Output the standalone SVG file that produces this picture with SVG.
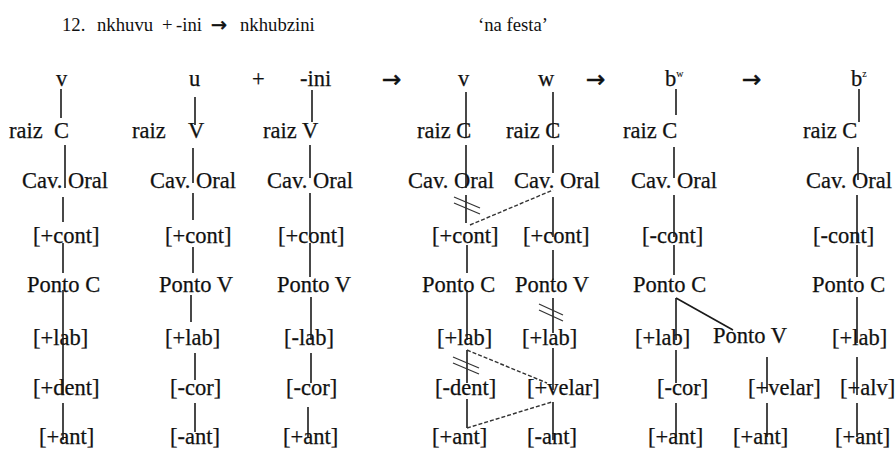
<svg xmlns="http://www.w3.org/2000/svg" width="896" height="451" viewBox="0 0 896 451">
  <style>
    .h { font-family: "Liberation Serif", "Times New Roman", serif; font-size: 18.7px; fill: #111; }
    .t { font-family: "Liberation Serif", "Times New Roman", serif; font-size: 22.5px; fill: #111; stroke: #111; stroke-width: 0.25; }
    .sup { font-size: 10px; stroke-width: 0.1; }
    .ar { font-family: "DejaVu Sans", sans-serif; fill: #111; stroke: #111; stroke-width: 0.6; }
    .l { stroke: #1a1a1a; stroke-width: 1.6; fill: none; }
    .d { stroke: #333; stroke-width: 1.4; stroke-dasharray: 4 2; fill: none; }
    .cut { stroke: #333; stroke-width: 1.2; fill: none; }
  </style>

  <rect width="896" height="451" fill="#ffffff"/>

  <!-- heading line -->
  <g id="heading">
    <text class="h" y="31"><tspan x="62">12.</tspan> <tspan x="97">nkhuvu</tspan> <tspan x="162">+</tspan> <tspan x="176">-ini</tspan> <tspan class="ar" x="211" font-size="19">→</tspan> <tspan x="240">nkhubzini</tspan> <tspan x="478">‘na festa’</tspan></text>
  </g>

  <!-- top row: segments, operators and derivation arrows -->
  <g id="top-row">
    <text class="t" x="56" y="86">v</text>
    <text class="t" x="189" y="86">u</text>
    <text class="t" x="252" y="86">+</text>
    <text class="t" x="300" y="86">-ini</text>
    <text class="ar" x="382" y="87" font-size="23">→</text>
    <text class="t" x="458" y="86">v</text>
    <text class="t" x="538" y="86">w</text>
    <text class="ar" x="586" y="87" font-size="23">→</text>
    <text class="t" x="665" y="86">b<tspan class="sup" dy="-9">w</tspan></text>
    <text class="ar" x="742" y="87" font-size="23">→</text>
    <text class="t" x="851" y="86">b<tspan class="sup" dy="-9">z</tspan></text>
  </g>

  <!-- column 1: v -->
  <g id="col1">
    <text class="t" y="138"><tspan x="9">raiz</tspan> <tspan x="54">C</tspan></text>
    <text class="t" x="22" y="188">Cav. Oral</text>
    <text class="t" x="33" y="243">[+cont]</text>
    <text class="t" x="27" y="292">Ponto C</text>
    <text class="t" x="33" y="345">[+lab]</text>
    <text class="t" x="33" y="395">[+dent]</text>
    <text class="t" x="39" y="444">[+ant]</text>
  </g>

  <!-- column 2: u -->
  <g id="col2">
    <text class="t" y="138"><tspan x="132">raiz</tspan> <tspan x="188">V</tspan></text>
    <text class="t" x="150" y="188">Cav. Oral</text>
    <text class="t" x="165" y="243">[+cont]</text>
    <text class="t" x="159" y="292">Ponto V</text>
    <text class="t" x="165" y="345">[+lab]</text>
    <text class="t" x="170" y="395">[-cor]</text>
    <text class="t" x="170" y="444">[-ant]</text>
  </g>

  <!-- column 3: -ini -->
  <g id="col3">
    <text class="t" x="263" y="138">raiz V</text>
    <text class="t" x="267" y="188">Cav. Oral</text>
    <text class="t" x="278" y="243">[+cont]</text>
    <text class="t" x="277" y="292">Ponto V</text>
    <text class="t" x="284" y="345">[-lab]</text>
    <text class="t" x="286" y="395">[-cor]</text>
    <text class="t" x="283" y="444">[+ant]</text>
  </g>

  <!-- column 4: v -->
  <g id="col4">
    <text class="t" x="417" y="138">raiz C</text>
    <text class="t" x="408" y="188">Cav. Oral</text>
    <text class="t" x="432" y="243">[+cont]</text>
    <text class="t" x="422" y="292">Ponto C</text>
    <text class="t" x="437" y="345">[+lab]</text>
    <text class="t" x="435" y="395">[-dent]</text>
    <text class="t" x="432" y="444">[+ant]</text>
  </g>

  <!-- column 5: w -->
  <g id="col5">
    <text class="t" x="506" y="138">raiz C</text>
    <text class="t" x="514" y="188">Cav. Oral</text>
    <text class="t" x="523" y="243">[+cont]</text>
    <text class="t" x="515" y="292">Ponto V</text>
    <text class="t" x="522" y="345">[+lab]</text>
    <text class="t" x="527" y="395">[+velar]</text>
    <text class="t" x="527" y="444">[-ant]</text>
  </g>

  <!-- column 6: bw -->
  <g id="col6">
    <text class="t" x="623" y="138">raiz C</text>
    <text class="t" x="631" y="188">Cav. Oral</text>
    <text class="t" x="642" y="243">[-cont]</text>
    <text class="t" x="633" y="292">Ponto C</text>
    <text class="t" x="635" y="345">[+lab]</text>
    <text class="t" x="657" y="395">[-cor]</text>
    <text class="t" x="648" y="444">[+ant]</text>
  </g>

  <!-- secondary place under column 6 -->
  <g id="col7">
    <text class="t" x="713" y="343">Ponto V</text>
    <text class="t" x="748" y="395">[+velar]</text>
    <text class="t" x="733" y="444">[+ant]</text>
  </g>

  <!-- column 8: bz -->
  <g id="col8">
    <text class="t" x="803" y="138">raiz C</text>
    <text class="t" x="806" y="188">Cav. Oral</text>
    <text class="t" x="813" y="243">[-cont]</text>
    <text class="t" x="812" y="292">Ponto C</text>
    <text class="t" x="832" y="345">[+lab]</text>
    <text class="t" x="840" y="395">[+alv]</text>
    <text class="t" x="835" y="444">[+ant]</text>
  </g>

  <!-- association lines -->
  <g id="connectors">
    <!-- col1 -->
    <line class="l" x1="61" y1="89" x2="61" y2="118"/>
    <line class="l" x1="65" y1="145" x2="65" y2="188"/>
    <line class="l" x1="63" y1="197" x2="63" y2="222"/>
    <line class="l" x1="63" y1="243" x2="63" y2="273"/>
    <line class="l" x1="63" y1="290" x2="63" y2="395"/>
    <line class="l" x1="63" y1="403" x2="63" y2="440"/>
    <!-- col2 -->
    <line class="l" x1="195" y1="97" x2="195" y2="125"/>
    <line class="l" x1="193" y1="148" x2="193" y2="183"/>
    <line class="l" x1="193" y1="193" x2="193" y2="220"/>
    <line class="l" x1="193" y1="247" x2="193" y2="273"/>
    <line class="l" x1="191" y1="295" x2="191" y2="322"/>
    <line class="l" x1="195" y1="353" x2="195" y2="380"/>
    <line class="l" x1="195" y1="403" x2="195" y2="432"/>
    <!-- col3 -->
    <line class="l" x1="312" y1="90" x2="312" y2="122"/>
    <line class="l" x1="310" y1="145" x2="310" y2="178"/>
    <line class="l" x1="310" y1="193" x2="310" y2="237"/>
    <line class="l" x1="310" y1="243" x2="310" y2="277"/>
    <line class="l" x1="311" y1="297" x2="311" y2="340"/>
    <line class="l" x1="311" y1="353" x2="311" y2="383"/>
    <line class="l" x1="308" y1="407" x2="308" y2="438"/>
    <!-- col4 -->
    <line class="l" x1="466" y1="92" x2="466" y2="138"/>
    <line class="l" x1="466" y1="145" x2="466" y2="188"/>
    <line class="l" x1="466" y1="195" x2="466" y2="223"/>
    <line class="l" x1="467" y1="245" x2="467" y2="273"/>
    <line class="l" x1="467" y1="290" x2="467" y2="340"/>
    <line class="l" x1="467" y1="350" x2="467" y2="383"/>
    <line class="l" x1="467" y1="399" x2="467" y2="428"/>
    <!-- col5 -->
    <line class="l" x1="553" y1="92" x2="553" y2="138"/>
    <line class="l" x1="553" y1="145" x2="553" y2="173"/>
    <line class="l" x1="553" y1="197" x2="553" y2="237"/>
    <line class="l" x1="553" y1="250" x2="553" y2="280"/>
    <line class="l" x1="553" y1="298" x2="553" y2="333"/>
    <line class="l" x1="553" y1="348" x2="553" y2="390"/>
    <line class="l" x1="553" y1="402" x2="553" y2="440"/>
    <!-- spreading links between col4 and col5 -->
    <line class="d" x1="470" y1="225" x2="553" y2="190"/>
    <line class="d" x1="467" y1="350" x2="547" y2="383"/>
    <line class="d" x1="467" y1="428" x2="552" y2="402"/>
    <!-- delinking marks -->
    <line class="cut" x1="454" y1="197" x2="480" y2="208"/>
    <line class="cut" x1="454" y1="203" x2="480" y2="214"/>
    <line class="cut" x1="453" y1="357" x2="479" y2="368"/>
    <line class="cut" x1="453" y1="363" x2="479" y2="374"/>
    <line class="cut" x1="539" y1="304" x2="563" y2="315"/>
    <line class="cut" x1="539" y1="310" x2="563" y2="321"/>
    <!-- col6 -->
    <line class="l" x1="676" y1="89" x2="676" y2="115"/>
    <line class="l" x1="674" y1="147" x2="674" y2="178"/>
    <line class="l" x1="674" y1="195" x2="674" y2="237"/>
    <line class="l" x1="674" y1="245" x2="674" y2="275"/>
    <line class="l" x1="676" y1="298" x2="676" y2="340"/>
    <line class="l" x1="676" y1="298" x2="733" y2="330"/>
    <line class="l" x1="676" y1="350" x2="676" y2="383"/>
    <line class="l" x1="676" y1="403" x2="676" y2="437"/>
    <!-- col7 -->
    <line class="l" x1="767" y1="357" x2="767" y2="392"/>
    <line class="l" x1="767" y1="403" x2="767" y2="437"/>
    <!-- col8 -->
    <line class="l" x1="859" y1="89" x2="859" y2="122"/>
    <line class="l" x1="858" y1="147" x2="858" y2="180"/>
    <line class="l" x1="857" y1="195" x2="857" y2="243"/>
    <line class="l" x1="857" y1="245" x2="857" y2="277"/>
    <line class="l" x1="857" y1="297" x2="857" y2="343"/>
    <line class="l" x1="857" y1="357" x2="857" y2="395"/>
    <line class="l" x1="857" y1="403" x2="857" y2="437"/>
  </g>
</svg>
